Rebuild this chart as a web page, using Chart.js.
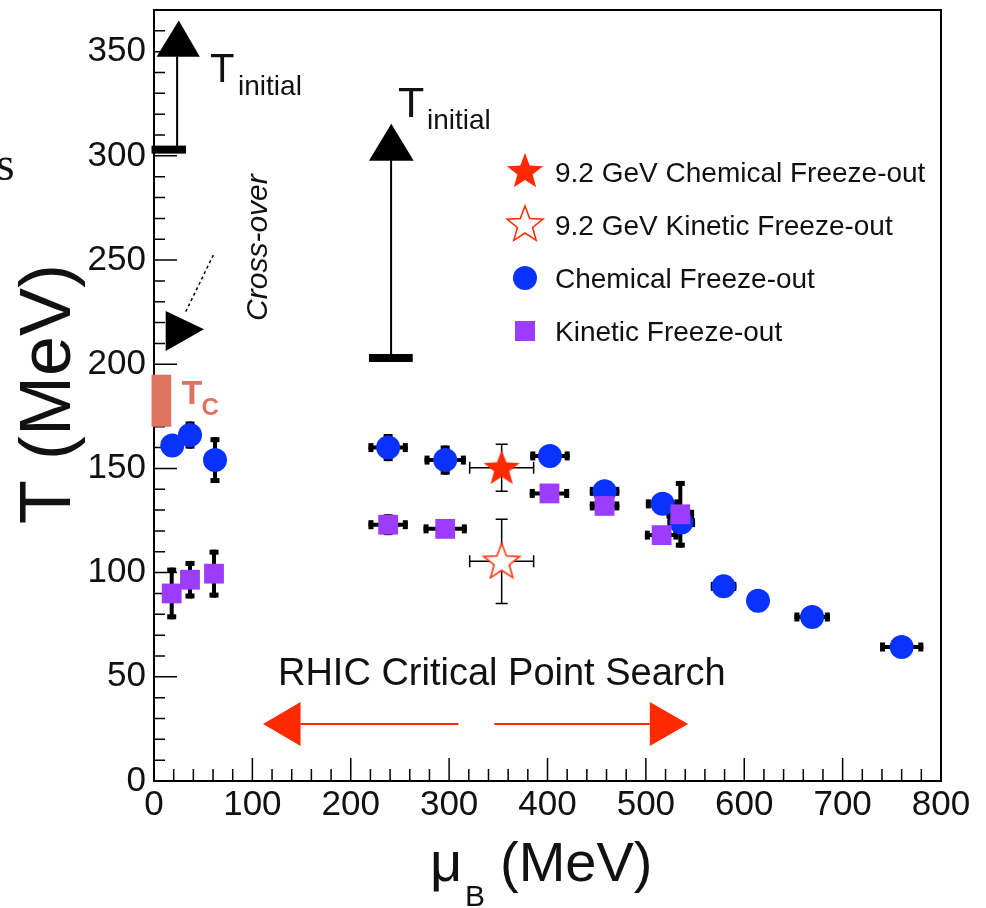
<!DOCTYPE html>
<html>
<head>
<meta charset="utf-8">
<script src="https://cdn.jsdelivr.net/npm/chart.js@4.4.1/dist/chart.umd.min.js"></script>
<style>
  html, body { margin: 0; padding: 0; background: #fff; }
  #wrap { width: 986px; height: 908px; position: relative; }
</style>
</head>
<body>
<div id="wrap"><canvas id="phaseChart"></canvas></div>
<script>
// axis ticks (MeV)
const xTicks = [0, 100, 200, 300, 400, 500, 600, 700, 800];
const yTicks = [0, 50, 100, 150, 200, 250, 300, 350];

const seriesLabels = ['9.2 GeV Chemical Freeze-out', '9.2 GeV Kinetic Freeze-out',
                      'Chemical Freeze-out', 'Kinetic Freeze-out'];

// chemical freeze-out (blue circles)
const chemMu    = [18.6, 36.6, 62, 238, 296, 402.5, 458, 517, 536, 579, 614, 669, 760];
const chemT     = [161, 166, 154, 160, 154, 156, 139, 133, 124, 93.4, 86.5, 78.7, 64.3];
const chemMuErr = [0, 0, 0, 20, 21, 20, 15, 17, 14, 13, 8, 18, 22];
const chemTErr  = [4, 6.5, 11, 6.5, 7, 5, 5, 5, 5, 3, 3, 3, 3];

// kinetic freeze-out (purple squares)
const kinMu    = [18, 36.6, 61, 238, 296, 402, 458, 516, 535];
const kinT     = [90, 96.6, 99.5, 123, 121, 138, 132, 118, 128];
const kinMuErr = [0, 0, 0, 20, 22, 20, 15, 17, 14];
const kinTErr  = [12.4, 9, 11.5, 5, 4, 4, 4, 4, 16];

// 9.2 GeV stars
const chem92Mu = [353.4], chem92T = [150.3], chem92MuErr = [32.5], chem92TErr = [11.3];
const kin92Mu  = [353.4], kin92T  = [105.4], kin92MuErr  = [32.5], kin92TErr  = [20.2];

const RED = '#ff2a00', BLUE = '#0a32ff', PURPLE = '#9b3cff', SALMON = '#e07262', INK = '#111';
const FONT = '"Liberation Sans", Arial, sans-serif';

function toPoints(xs, ys) { return xs.map((x, i) => ({ x: x, y: ys[i] })); }

function starCanvas(filled) {
  const c = document.createElement('canvas');
  c.width = c.height = 42;
  const g = c.getContext('2d');
  g.beginPath();
  for (let k = 0; k < 10; k++) {
    const r = k % 2 ? 8 : 19;
    const a = -Math.PI / 2 + k * Math.PI / 5;
    g.lineTo(21 + r * Math.cos(a), 22 + r * Math.sin(a));
  }
  g.closePath();
  if (filled) {
    g.fillStyle = RED; g.fill();
  } else {
    g.fillStyle = '#fff'; g.fill();
    g.strokeStyle = RED; g.lineWidth = 1.5; g.stroke();
  }
  return c;
}
const starFilled = starCanvas(true);
const starOpen = starCanvas(false);

function tri(ctx, pts) {
  ctx.beginPath();
  ctx.moveTo(pts[0][0], pts[0][1]);
  ctx.lineTo(pts[1][0], pts[1][1]);
  ctx.lineTo(pts[2][0], pts[2][1]);
  ctx.closePath();
  ctx.fill();
}

function errorBars(ctx, px, py, xs, ys, ex, ey, thin) {
  ctx.save();
  ctx.strokeStyle = '#000';
  ctx.fillStyle = '#000';
  ctx.lineWidth = thin ? 1.5 : 4;
  const cap = thin ? 6 : 4.5;
  xs.forEach((v, i) => {
    const cx = px(v), cy = py(ys[i]);
    if (ex[i] > 0) {
      const x1 = px(v - ex[i]), x2 = px(v + ex[i]);
      ctx.beginPath(); ctx.moveTo(x1, cy); ctx.lineTo(x2, cy); ctx.stroke();
      if (thin) {
        ctx.beginPath();
        ctx.moveTo(x1, cy - cap); ctx.lineTo(x1, cy + cap);
        ctx.moveTo(x2, cy - cap); ctx.lineTo(x2, cy + cap);
        ctx.stroke();
      } else {
        ctx.fillRect(x1, cy - cap, 5, cap * 2);
        ctx.fillRect(x2 - 5, cy - cap, 5, cap * 2);
      }
    }
    if (ey[i] > 0) {
      const y1 = py(ys[i] + ey[i]), y2 = py(ys[i] - ey[i]);
      ctx.beginPath(); ctx.moveTo(cx, y1); ctx.lineTo(cx, y2); ctx.stroke();
      if (thin) {
        ctx.beginPath();
        ctx.moveTo(cx - cap, y1); ctx.lineTo(cx + cap, y1);
        ctx.moveTo(cx - cap, y2); ctx.lineTo(cx + cap, y2);
        ctx.stroke();
      } else {
        ctx.fillRect(cx - cap, y1, cap * 2, 5);
        ctx.fillRect(cx - cap, y2 - 5, cap * 2, 5);
      }
    }
  });
  ctx.restore();
}

const phasePlugin = {
  id: 'phasePlugin',
  beforeDatasetsDraw(chart) {
    const ctx = chart.ctx, a = chart.chartArea;
    const xs = chart.scales.x, ys = chart.scales.y;
    const px = v => xs.getPixelForValue(v), py = v => ys.getPixelForValue(v);
    ctx.save();

    // frame and inward ticks
    ctx.strokeStyle = '#000';
    ctx.lineWidth = 2;
    ctx.strokeRect(a.left, a.top, a.right - a.left, a.bottom - a.top);
    ctx.lineWidth = 1.5;
    ctx.beginPath();
    for (let v = 0; v <= 370; v += 10) {
      const len = v % 50 === 0 ? 23 : 11;
      ctx.moveTo(a.left, py(v)); ctx.lineTo(a.left + len, py(v));
    }
    for (let v = 0; v <= 800; v += 20) {
      const len = v % 100 === 0 ? 23 : 12;
      ctx.moveTo(px(v), a.bottom); ctx.lineTo(px(v), a.bottom - len);
    }
    ctx.stroke();

    // Tc band
    ctx.fillStyle = SALMON;
    ctx.fillRect(px(-2.5), py(195), px(17.5) - px(-2.5), py(170) - py(195));

    // T initial arrows
    ctx.fillStyle = '#000';
    ctx.lineWidth = 2;
    ctx.beginPath();
    ctx.moveTo(px(23.5), py(303)); ctx.lineTo(px(23.5), py(348));
    ctx.moveTo(px(241), py(203)); ctx.lineTo(px(241), py(298));
    ctx.stroke();
    ctx.fillRect(px(-2.5), py(303) - 4, px(32.5) - px(-2.5), 8);
    ctx.fillRect(px(218.5), py(203) - 4, px(263) - px(218.5), 8);
    tri(ctx, [[px(2.6), py(347.6)], [px(46.6), py(347.6)], [px(25.2), py(365)]]);
    tri(ctx, [[px(218.5), py(297.7)], [px(264), py(297.7)], [px(241.2), py(315.4)]]);

    // cross-over
    ctx.save();
    ctx.setLineDash([3, 3]);
    ctx.lineWidth = 1.5;
    ctx.beginPath();
    ctx.moveTo(px(60.3), py(252.4)); ctx.lineTo(px(31.5), py(224.5));
    ctx.stroke();
    ctx.restore();
    tri(ctx, [[px(11.9), py(225.6)], [px(11.9), py(206.3)], [px(50.8), py(216.8)]]);

    // RHIC arrows
    ctx.strokeStyle = RED;
    ctx.fillStyle = RED;
    ctx.lineWidth = 2;
    const ay = py(27.4);
    ctx.beginPath();
    ctx.moveTo(px(309.5), ay); ctx.lineTo(px(149), ay);
    ctx.moveTo(px(345.9), ay); ctx.lineTo(px(504), ay);
    ctx.stroke();
    tri(ctx, [[px(149), ay - 22], [px(149), ay + 22], [px(110.8), ay]]);
    tri(ctx, [[px(504), ay - 22], [px(504), ay + 22], [px(543), ay]]);
    ctx.restore();

    // error bars
    errorBars(ctx, px, py, chemMu, chemT, chemMuErr, chemTErr, false);
    errorBars(ctx, px, py, kinMu, kinT, kinMuErr, kinTErr, false);
    errorBars(ctx, px, py, chem92Mu, chem92T, chem92MuErr, chem92TErr, true);
    errorBars(ctx, px, py, kin92Mu, kin92T, kin92MuErr, kin92TErr, true);
  },
  afterDatasetsDraw(chart) {
    const ctx = chart.ctx, a = chart.chartArea;
    const xs = chart.scales.x, ys = chart.scales.y;
    const px = v => xs.getPixelForValue(v), py = v => ys.getPixelForValue(v);
    ctx.save();
    ctx.fillStyle = INK;
    ctx.textBaseline = 'alphabetic';
    ctx.textAlign = 'left';

    // T initial labels
    ctx.font = '40px ' + FONT;
    ctx.fillText('T', px(57), py(335.4));
    ctx.font = '28px ' + FONT;
    ctx.fillText('initial', px(57) + 28, py(335.4) + 13);
    ctx.font = '43px ' + FONT;
    ctx.fillText('T', px(248), py(318.6));
    ctx.font = '28px ' + FONT;
    ctx.fillText('initial', px(248) + 29, py(318.6) + 12);

    // Tc label
    ctx.fillStyle = SALMON;
    ctx.font = 'bold 34px ' + FONT;
    ctx.fillText('T', px(28), py(180.8));
    ctx.font = 'bold 24px ' + FONT;
    ctx.fillText('C', px(28) + 20, py(180.8) + 11);

    // cross-over label
    ctx.fillStyle = INK;
    ctx.save();
    ctx.translate(px(115), py(256));
    ctx.rotate(-Math.PI / 2);
    ctx.textAlign = 'center';
    ctx.font = 'italic 30px ' + FONT;
    ctx.fillText('Cross-over', 0, 0);
    ctx.restore();

    // RHIC text
    ctx.font = '38px ' + FONT;
    ctx.fillText('RHIC Critical Point Search', px(126), py(46));

    // legend
    const lx = a.left + 371, ly = a.top + 162, step = 53;
    const markers = [
      (x, y) => ctx.drawImage(starFilled, x - 21, y - 22),
      (x, y) => ctx.drawImage(starOpen, x - 21, y - 22),
      (x, y) => { ctx.fillStyle = BLUE; ctx.beginPath(); ctx.arc(x, y, 12, 0, Math.PI * 2); ctx.fill(); },
      (x, y) => { ctx.fillStyle = PURPLE; ctx.fillRect(x - 10, y - 10, 20, 20); }
    ];
    seriesLabels.forEach((label, i) => {
      const y = ly + i * step;
      markers[i](lx, y);
      ctx.fillStyle = INK;
      ctx.font = '28px ' + FONT;
      ctx.fillText(label, lx + 30, y + 10);
    });

    // axis titles
    ctx.save();
    ctx.translate(70, 394);
    ctx.rotate(-Math.PI / 2);
    ctx.textAlign = 'center';
    ctx.font = '72px ' + FONT;
    ctx.fillText('T (MeV)', 0, 0);
    ctx.restore();

    ctx.font = '56px ' + FONT;
    ctx.fillText('\u03bc', 430, 881);
    ctx.font = '30px ' + FONT;
    ctx.fillText('B', 465, 906);
    ctx.font = '56px ' + FONT;
    ctx.fillText('(MeV)', 500, 881);

    // stray serif letter at the left edge
    ctx.font = '48px "Liberation Serif", serif';
    ctx.fillText('s', -4, 180);
    ctx.restore();
  }
};

new Chart(document.getElementById('phaseChart'), {
  type: 'scatter',
  data: {
    datasets: [
      { label: seriesLabels[0], data: toPoints(chem92Mu, chem92T), pointStyle: starFilled,
        pointRadius: 19, order: 0 },
      { label: seriesLabels[1], data: toPoints(kin92Mu, kin92T), pointStyle: starOpen,
        pointRadius: 19, order: 1 },
      { label: seriesLabels[2], data: toPoints(chemMu, chemT), pointStyle: 'circle',
        pointRadius: 12, backgroundColor: BLUE, borderColor: BLUE, borderWidth: 0, order: 3 },
      { label: seriesLabels[3], data: toPoints(kinMu, kinT), pointStyle: 'rect',
        pointRadius: 14, backgroundColor: PURPLE, borderColor: PURPLE, borderWidth: 0, order: 2 }
    ]
  },
  options: {
    responsive: true,
    maintainAspectRatio: false,
    animation: false,
    layout: { autoPadding: false, padding: { top: 10, right: 45, left: 0, bottom: 0 } },
    scales: {
      x: {
        type: 'linear', min: 0, max: 800,
        grid: { display: false, drawTicks: false },
        border: { display: false },
        afterBuildTicks: axis => { axis.ticks = xTicks.map(v => ({ value: v })); },
        afterFit: axis => { axis.height = 127; axis.paddingLeft = 0; axis.paddingRight = 0; },
        ticks: { padding: 3, color: INK, font: { family: FONT, size: 35 }, maxRotation: 0 }
      },
      y: {
        type: 'linear', min: 0, max: 370,
        grid: { display: false, drawTicks: false },
        border: { display: false },
        afterBuildTicks: axis => { axis.ticks = yTicks.map(v => ({ value: v })); },
        afterFit: axis => { axis.width = 154; axis.paddingTop = 0; axis.paddingBottom = 0; },
        ticks: { padding: 8, color: INK, font: { family: FONT, size: 35 } }
      }
    },
    plugins: {
      legend: { display: false },
      tooltip: { enabled: true }
    }
  },
  plugins: [phasePlugin]
});
</script>
</body>
</html>
